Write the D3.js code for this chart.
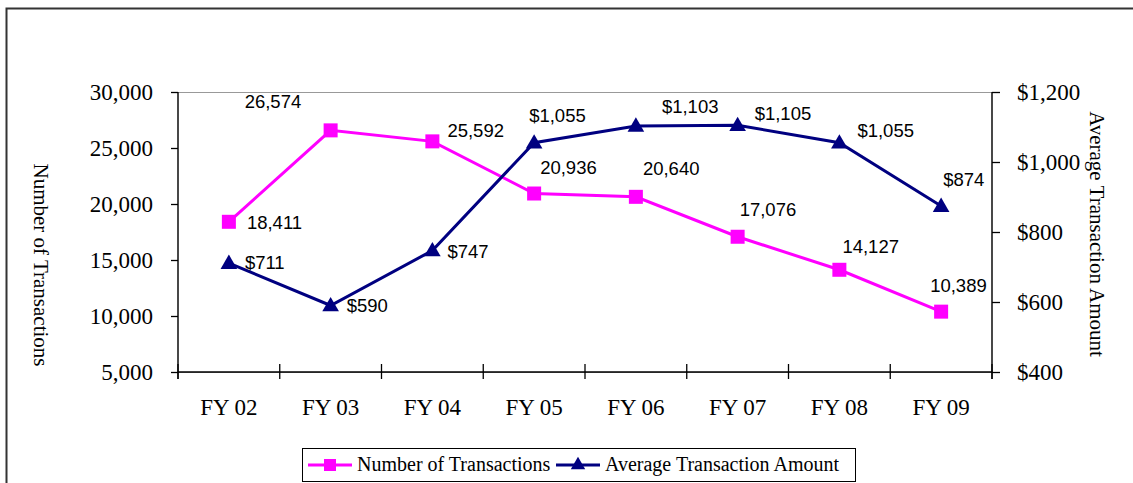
<!DOCTYPE html>
<meta charset="utf-8">
<script src="https://d3js.org/d3.v7.js"></script>
<style>
  body { margin: 0; background: #fff; }
  text { fill: #000; }
</style>
<div id="chart"></div>
<script>
// chart data
var years = ["FY 02", "FY 03", "FY 04", "FY 05", "FY 06", "FY 07", "FY 08", "FY 09"]
var transactions = [18411, 26574, 25592, 20936, 20640, 17076, 14127, 10389]
var avgAmount = [711, 590, 747, 1055, 1103, 1105, 1055, 874]
var leftTicks = [5000, 10000, 15000, 20000, 25000, 30000]
var rightTicks = [400, 600, 800, 1000, 1200]

// where each data label sits relative to its marker (manual, like the original)
var countLabelOffset = [[18, 7], [-86, -22], [15, -4], [6, -20], [7, -22], [2, -21], [3, -17], [-11, -20]]
var amountLabelOffset = [[16, 6], [16, 6], [15, 7], [-5, -21], [26, -13], [17, -5], [18, -6], [2, -20]]

var W = 1133, H = 483
var plot = {left: 178, right: 992, top: 92, bottom: 372}
var serif = "'Liberation Serif', 'Times New Roman', serif"
var sans = "'Liberation Sans', Arial, sans-serif"

var svg = d3.select("#chart").append("svg")
  .attr("width", W).attr("height", H)

// outer frame
svg.append("rect")
  .attr("x", 6.5).attr("y", 8.5)
  .attr("width", 1140).attr("height", 500)
  .attr("fill", "none").attr("stroke", "#333").attr("stroke-width", 2)

var x = d3.scaleBand().domain(years).range([plot.left, plot.right]).padding(0)
var yL = d3.scaleLinear().domain([5000, 30000]).range([plot.bottom, plot.top])
var yR = d3.scaleLinear().domain([400, 1200]).range([plot.bottom, plot.top])

// plot area border (grey)
svg.append("rect")
  .attr("x", plot.left).attr("y", plot.top + 0.5)
  .attr("width", plot.right - plot.left).attr("height", plot.bottom - plot.top)
  .attr("fill", "none").attr("stroke", "#999").attr("stroke-width", 1)

// left axis
var gL = svg.append("g")
  .attr("transform", `translate(${plot.left},0)`)
  .call(d3.axisLeft(yL).tickValues(leftTicks).tickSize(7).tickPadding(18).tickFormat(d3.format(",")))
gL.selectAll("text").style("font-family", serif).style("font-size", "23px")
gL.select(".domain").attr("d", `M0,${plot.top}V${plot.bottom + 7}`)

// right axis
var gR = svg.append("g")
  .attr("transform", `translate(${plot.right},0)`)
  .call(d3.axisRight(yR).tickValues(rightTicks).tickSize(8).tickPadding(17).tickFormat(d3.format("$,")))
gR.selectAll("text").style("font-family", serif).style("font-size", "23px")
gR.select(".domain").attr("d", `M0,${plot.top}V${plot.bottom + 7}`)

svg.selectAll(".domain, .tick line").attr("stroke", "#000").attr("stroke-width", 1.3)

// bottom axis: ticks between categories, crossing the line
var gX = svg.append("g")
gX.append("line")
  .attr("x1", plot.left).attr("x2", plot.right)
  .attr("y1", plot.bottom).attr("y2", plot.bottom)
  .attr("stroke", "#000").attr("stroke-width", 1.3)
gX.selectAll(".xtick")
  .data(years.map(function(d) { return x(d) }).concat([plot.right]))
  .join("line")
  .attr("class", "xtick")
  .attr("x1", function(d) { return d }).attr("x2", function(d) { return d })
  .attr("y1", plot.bottom - 8).attr("y2", plot.bottom + 7)
  .attr("stroke", "#000").attr("stroke-width", 1.3)
gX.selectAll(".xlabel")
  .data(years)
  .join("text")
  .attr("class", "xlabel")
  .attr("x", function(d) { return x(d) + x.bandwidth() / 2 })
  .attr("y", 415)
  .attr("text-anchor", "middle")
  .style("font-family", serif).style("font-size", "23px")
  .text(function(d) { return d })

// axis titles (both read top to bottom)
svg.append("text")
  .attr("transform", "translate(34,265) rotate(90)")
  .attr("text-anchor", "middle")
  .style("font-family", serif).style("font-size", "21px")
  .text("Number of Transactions")
svg.append("text")
  .attr("transform", "translate(1090,234) rotate(90)")
  .attr("text-anchor", "middle")
  .style("font-family", serif).style("font-size", "21px")
  .text("Average Transaction Amount")

var cx = function(i) { return x(years[i]) + x.bandwidth() / 2 }
var pink = "#FF00FF", navy = "#000080"
var tri = d3.symbol().type(d3.symbolTriangle).size(120)

// number of transactions series
svg.append("path")
  .attr("d", d3.line()(transactions.map(function(v, i) { return [cx(i), yL(v)] })))
  .attr("fill", "none").attr("stroke", pink).attr("stroke-width", 3)
svg.selectAll(".sq")
  .data(transactions)
  .join("rect")
  .attr("class", "sq")
  .attr("x", function(d, i) { return cx(i) - 7 })
  .attr("y", function(d) { return yL(d) - 7 })
  .attr("width", 14).attr("height", 14)
  .attr("fill", pink)

// average amount series
svg.append("path")
  .attr("d", d3.line()(avgAmount.map(function(v, i) { return [cx(i), yR(v)] })))
  .attr("fill", "none").attr("stroke", navy).attr("stroke-width", 3)
svg.selectAll(".tri")
  .data(avgAmount)
  .join("path")
  .attr("class", "tri")
  .attr("d", tri)
  .attr("transform", function(d, i) { return `translate(${cx(i)},${yR(d) + 1})` })
  .attr("fill", navy)

// data labels
svg.selectAll(".clab")
  .data(transactions)
  .join("text")
  .attr("class", "clab")
  .attr("x", function(d, i) { return cx(i) + countLabelOffset[i][0] })
  .attr("y", function(d, i) { return yL(d) + countLabelOffset[i][1] })
  .style("font-family", sans).style("font-size", "18.5px")
  .text(d3.format(","))
svg.selectAll(".alab")
  .data(avgAmount)
  .join("text")
  .attr("class", "alab")
  .attr("x", function(d, i) { return cx(i) + amountLabelOffset[i][0] })
  .attr("y", function(d, i) { return yR(d) + amountLabelOffset[i][1] })
  .style("font-family", sans).style("font-size", "18.5px")
  .text(d3.format("$,"))

// legend
var lg = svg.append("g")
lg.append("rect")
  .attr("x", 302.5).attr("y", 448.5).attr("width", 553).attr("height", 33)
  .attr("fill", "#fff").attr("stroke", "#000").attr("stroke-width", 1)
var legendItems = [
  {name: "Number of Transactions", color: pink, x0: 308, shape: "sq"},
  {name: "Average Transaction Amount", color: navy, x0: 556, shape: "tri"}
]
legendItems.forEach(function(it) {
  lg.append("line")
    .attr("x1", it.x0).attr("x2", it.x0 + 44).attr("y1", 465).attr("y2", 465)
    .attr("stroke", it.color).attr("stroke-width", 3)
  if (it.shape == "sq") {
    lg.append("rect").attr("x", it.x0 + 16).attr("y", 459)
      .attr("width", 12).attr("height", 12).attr("fill", it.color)
  } else {
    lg.append("path").attr("d", d3.symbol().type(d3.symbolTriangle).size(90))
      .attr("transform", `translate(${it.x0 + 22},465)`).attr("fill", it.color)
  }
  lg.append("text")
    .attr("x", it.x0 + 49).attr("y", 471)
    .style("font-family", serif).style("font-size", "20px")
    .text(it.name)
})
</script>
